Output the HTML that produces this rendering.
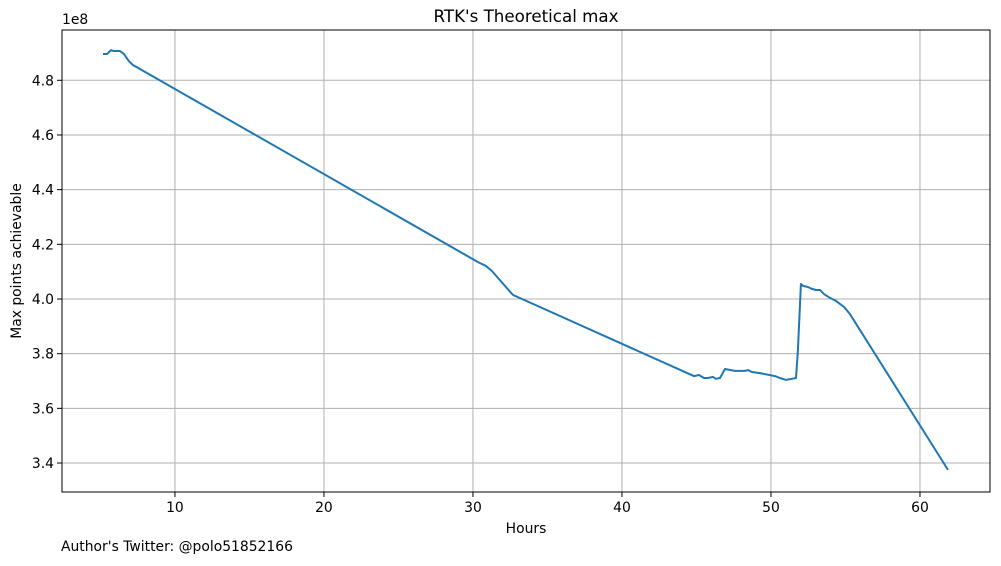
<!DOCTYPE html>
<html><head><meta charset="utf-8"><style>
body{margin:0;background:#fff;font-family:"DejaVu Sans","Liberation Sans",sans-serif;}
text{font-family:"DejaVu Sans","Liberation Sans",sans-serif;fill:#000;}
</style></head><body>
<svg id="c" width="1001" height="562"></svg>
<script>
const hours=[5.17,5.44,5.70,5.91,6.31,6.58,6.91,7.18,30.34,30.87,31.28,32.68,44.83,45.17,45.50,45.77,46.11,46.31,46.58,46.91,47.58,48.26,48.46,48.72,49.26,50.27,50.60,51.01,51.41,51.68,51.81,52.01,52.15,52.48,52.75,53.02,53.29,53.56,53.96,54.36,54.90,55.30,61.88];
const maxPoints=[4.896,4.896,4.910,4.907,4.907,4.896,4.870,4.856,4.135,4.121,4.102,4.015,3.718,3.722,3.711,3.711,3.715,3.708,3.711,3.744,3.737,3.737,3.740,3.733,3.729,3.718,3.711,3.704,3.708,3.711,3.814,4.055,4.048,4.044,4.037,4.033,4.033,4.018,4.004,3.993,3.971,3.945,3.375];
const xTicks=[10,20,30,40,50,60];
const yTicks=[3.4,3.6,3.8,4.0,4.2,4.4,4.6,4.8];
const L=62,R=990,T=30,B=492,x0=2.42,x1=64.7,y0=3.294,y1=4.984;
const sx=v=>L+(v-x0)/(x1-x0)*(R-L), sy=v=>B-(v-y0)/(y1-y0)*(B-T);
const svg=document.getElementById('c'),NS='http://www.w3.org/2000/svg';
function mk(t,a,p){const e=document.createElementNS(NS,t);for(const k in a)e.setAttribute(k,a[k]);(p||svg).appendChild(e);return e;}
let e;
xTicks.forEach(t=>{const x=sx(t);
e=mk('line',{x1:x,x2:x,y1:T,y2:B,stroke:'#b0b0b0','stroke-width':1});


mk('line',{x1:x,x2:x,y1:B,y2:B+5,stroke:'#000','stroke-width':1});
e=mk('text',{x:x,y:B+20,'text-anchor':'middle','font-size':13.9});e.textContent=t;

});
yTicks.forEach(t=>{const y=sy(t);
e=mk('line',{x1:L,x2:R,y1:y,y2:y,stroke:'#b0b0b0','stroke-width':1});


mk('line',{x1:L-5,x2:L,y1:y,y2:y,stroke:'#000','stroke-width':1});
e=mk('text',{x:L-8,y:y+5,'text-anchor':'end','font-size':13.9});e.textContent=t.toFixed(1);

});
e=mk('polyline',{points:hours.map((h,i)=>sx(h)+','+sy(maxPoints[i])).join(' '),fill:'none',stroke:'#1f77b4','stroke-width':2,'stroke-linejoin':'round'});


e=mk('rect',{x:L,y:T,width:R-L,height:B-T,fill:'none',stroke:'#000','stroke-width':1});


e=mk('text',{x:526,y:22,'text-anchor':'middle','font-size':16.7});e.textContent="RTK's Theoretical max";


e=mk('text',{x:526,y:533,'text-anchor':'middle','font-size':13.9});e.textContent='Hours';


e=mk('text',{x:21,y:261,'text-anchor':'middle','font-size':13.9,transform:'rotate(-90 21 261)'});e.textContent='Max points achievable';


e=mk('text',{x:62,y:24,'font-size':13.9});e.textContent='1e8';


e=mk('text',{x:61,y:551,'font-size':13.9});e.textContent="Author's Twitter: @polo51852166";


</script>
</body></html>
